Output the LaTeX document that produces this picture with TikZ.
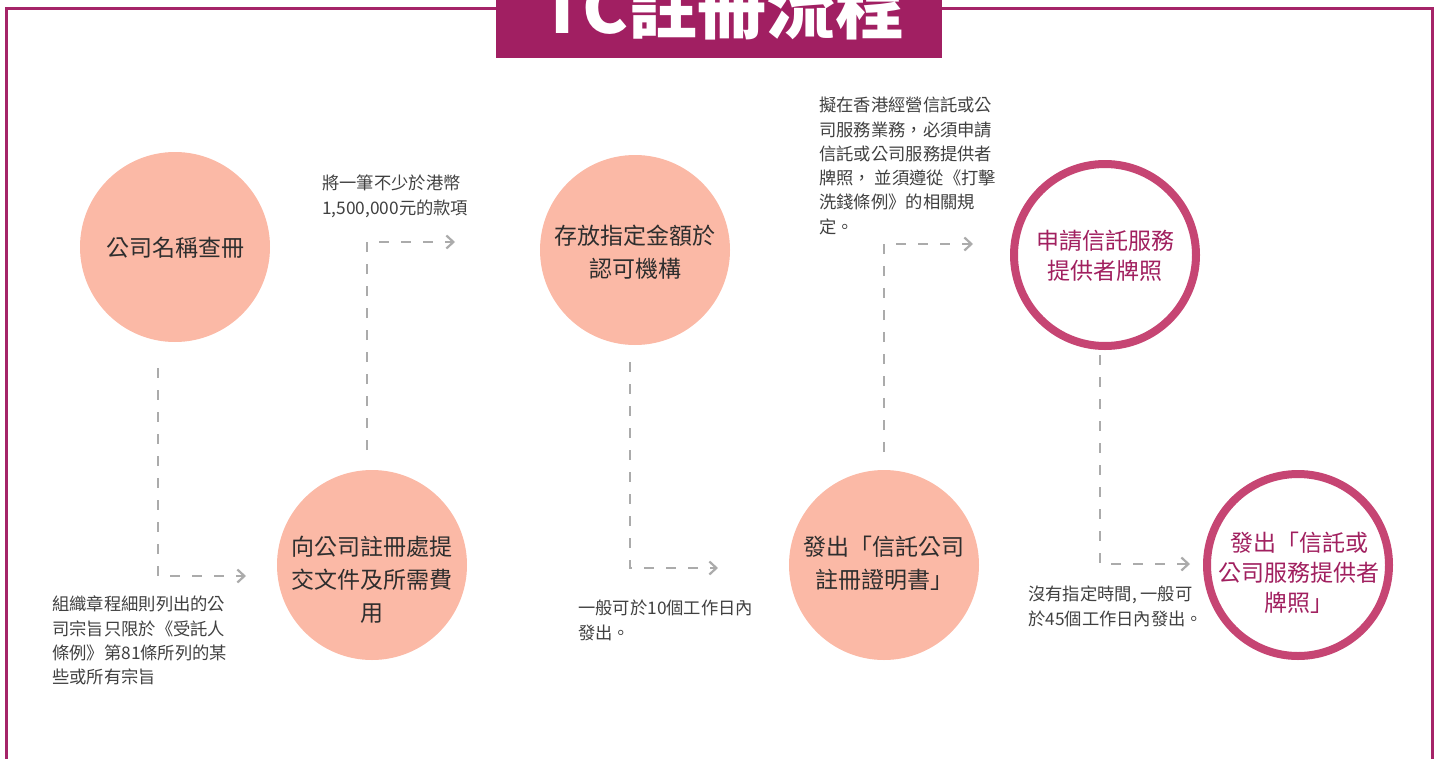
\documentclass[tikz,border=0pt]{standalone}
\usepackage{fontspec}
\setmainfont{Noto Sans CJK TC}
\usetikzlibrary{arrows.meta}
\definecolor{frameC}{HTML}{A52468}
\definecolor{titleC}{HTML}{A11F62}
\definecolor{salmon}{HTML}{FBB9A6}
\definecolor{ringC}{HTML}{C64573}
\definecolor{magtext}{HTML}{A1205F}
\definecolor{dashC}{HTML}{ABABAB}
\definecolor{bodyC}{HTML}{2E2E2E}
\definecolor{noteC}{HTML}{404040}
\tikzset{
  stepcircle/.style={circle, fill=salmon, minimum size=190pt, inner sep=0pt},
  ringcircle/.style={circle, draw=ringC, line width=8pt, fill=white, minimum size=182pt, inner sep=0pt},
  circtext/.style={align=center, inner sep=0pt, text=bodyC, font=\fontsize{23}{33}\selectfont},
  ringtext/.style={align=center, inner sep=0pt, text=magtext, font=\fontsize{23}{30}\selectfont},
  note/.style={align=left, anchor=north west, inner sep=0pt, text=noteC, font=\fontsize{17.3}{24.3}\selectfont},
  flow/.style={draw=dashC, line width=2.4pt, dash pattern=on 10pt off 12pt, -{Straight Barb[length=7pt,width=13pt,line width=2.2pt]}}
}
\begin{document}
\begin{tikzpicture}[x=1pt,y=-1pt]
\useasboundingbox (0,0) rectangle (1438,758);
\clip (0,0) rectangle (1438,758);
% frame
\draw[frameC, line width=3pt] (6,8) rectangle (1432,800);
% title
\node[fill=titleC, minimum width=446pt, minimum height=80pt, inner sep=0pt, anchor=south west] (titlebox) at (496,58) {};
\node[anchor=base, text=white, inner sep=0pt, font=\bfseries\fontsize{69}{69}\selectfont] (title) at (722,33) {TC註冊流程};

% circles
\node[stepcircle] (c1) at (175,247) {};
\node[circtext] (t1) at (175,248) {公司名稱查冊};
\node[stepcircle] (c2) at (635,250) {};
\node[circtext] (t2) at (635,252) {存放指定金額於\\認可機構};
\node[stepcircle] (c3) at (372,565) {};
\node[circtext] (t3) at (372,580) {向公司註冊處提\\交文件及所需費\\用};
\node[stepcircle] (c4) at (884,565) {};
\node[circtext] (t4) at (884,563) {發出「信託公司\\註冊證明書」};
\node[ringcircle] (c5) at (1105,255) {};
\node[ringtext] (t5) at (1105,256) {申請信託服務\\提供者牌照};
\node[ringcircle] (c6) at (1298,565) {};
\node[ringtext] (t6) at (1299,573) {發出「信託或\\公司服務提供者\\牌照」};

% connector coordinates
\coordinate (a1) at (158,368);
\coordinate (b1) at (158,576);
\coordinate (e1) at (246,576);
\coordinate (a2) at (367,450);
\coordinate (b2) at (367,242);
\coordinate (e2) at (455,242);
\coordinate (a3) at (630,362);
\coordinate (b3) at (630,568);
\coordinate (e3) at (718,568);
\coordinate (a4) at (884,452);
\coordinate (b4) at (884,244);
\coordinate (e4) at (973,244);
\coordinate (a5) at (1100,355);
\coordinate (b5) at (1100,564);
\coordinate (e5) at (1190,564);

\draw[flow] (a1) -- (b1) -- (e1);
\draw[flow] (a2) -- (b2) -- (e2);
\draw[flow] (a3) -- (b3) -- (e3);
\draw[flow] (a4) -- (b4) -- (e4);
\draw[flow] (a5) -- (b5) -- (e5);

% notes
\node[note] (n1) at (322,175) {將一筆不少於港幣\\1,500,000元的款項};
\node[note] (n2) at (819,97) {擬在香港經營信託或公\\司服務業務，必須申請\\信託或公司服務提供者\\牌照， 並須遵從《打擊\\洗錢條例》的相關規\\定。};
\node[note] (n3) at (52,596) {組織章程細則列出的公\\司宗旨只限於《受託人\\條例》第81條所列的某\\些或所有宗旨};
\node[note] (n4) at (578,600) {一般可於10個工作日內\\發出。};
\node[note] (n5) at (1028,586) {沒有指定時間, 一般可\\於45個工作日內發出。};
\end{tikzpicture}
\end{document}
